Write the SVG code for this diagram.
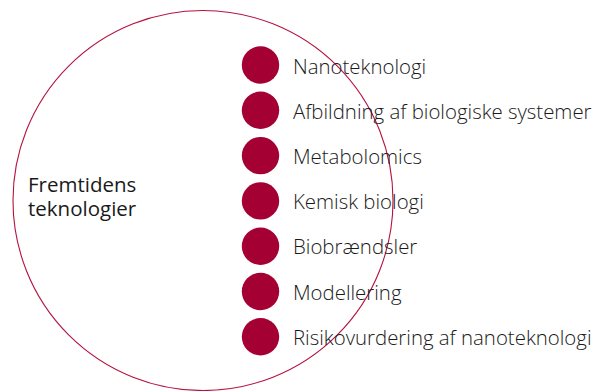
<svg xmlns="http://www.w3.org/2000/svg" width="595" height="391" viewBox="0 0 595 391">
<style>
.ring{fill:none;stroke:#b4123f;stroke-width:1.1}
.dot{fill:#a50034}
.lbl{font-family:"Open Sans","Noto Sans","Liberation Sans",sans-serif;font-size:20.4px;font-weight:300;fill:#1a1a1a}
.title{font-family:"Open Sans","Noto Sans","Liberation Sans",sans-serif;font-size:20.5px;font-weight:400;fill:#1a1a1a}
</style>
<rect width="595" height="391" fill="#ffffff"/>
<g id="main">
<circle class="ring" cx="203" cy="200.5" r="190"/>
<text class="title" x="28" y="192">Fremtidens</text>
<text class="title" x="28" y="215.5">teknologier</text>
</g>
<g id="connectors"></g>
<g id="item1"><circle class="dot" cx="260.5" cy="65" r="18.7"/><text class="lbl" x="293" y="73.5">Nanoteknologi</text></g>
<g id="item2"><circle class="dot" cx="260.5" cy="110.3" r="18.7"/><text class="lbl" x="293" y="118.8">Afbildning af biologiske systemer</text></g>
<g id="item3"><circle class="dot" cx="260.5" cy="155.6" r="18.7"/><text class="lbl" x="293" y="164.1">Metabolomics</text></g>
<g id="item4"><circle class="dot" cx="260.5" cy="200.9" r="18.7"/><text class="lbl" x="293" y="209.4">Kemisk biologi</text></g>
<g id="item5"><circle class="dot" cx="260.5" cy="246.2" r="18.7"/><text class="lbl" x="293" y="254.3">Biobrændsler</text></g>
<g id="item6"><circle class="dot" cx="260.5" cy="291.5" r="18.7"/><text class="lbl" x="293" y="299.8">Modellering</text></g>
<g id="item7"><circle class="dot" cx="260.5" cy="336.8" r="18.7"/><text class="lbl" x="293" y="345.1">Risikovurdering af nanoteknologi</text></g>
</svg>
